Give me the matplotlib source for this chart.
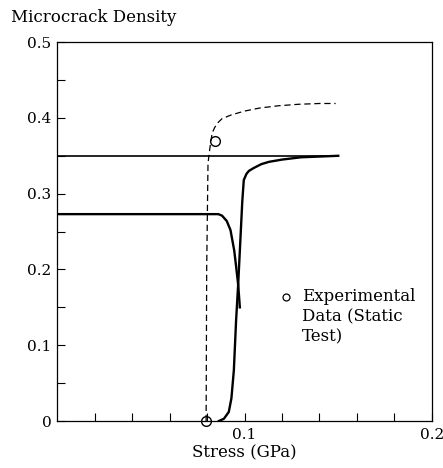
import numpy as np
import matplotlib
matplotlib.use("Agg")
import matplotlib.pyplot as plt

plt.rcParams['font.family'] = ['DejaVu Serif']

# solid branch dropping from the plateau
drop_x = [0.0, 0.080, 0.086, 0.088, 0.0905, 0.0925, 0.0945, 0.0955, 0.0966, 0.0975]
drop_y = [0.273, 0.273, 0.273, 0.271, 0.264, 0.252, 0.225, 0.204, 0.180, 0.150]

# solid branch rising from zero
rise_x = [0.0863, 0.089, 0.0916, 0.093, 0.0943, 0.0955, 0.0966, 0.0978, 0.0988, 0.0996,
          0.1010, 0.1023, 0.105, 0.109, 0.113, 0.120, 0.130, 0.140, 0.150]
rise_y = [0.0, 0.003, 0.012, 0.030, 0.067, 0.133, 0.180, 0.240, 0.290, 0.318,
          0.326, 0.330, 0.334, 0.339, 0.342, 0.345, 0.348, 0.349, 0.350]

# dashed curve
dash_x = [0.0795, 0.0798, 0.0805, 0.0815, 0.0827, 0.0840, 0.0855, 0.088, 0.093, 0.100,
          0.108, 0.118, 0.129, 0.140, 0.1486]
dash_y = [0.0, 0.20, 0.34, 0.360, 0.380, 0.387, 0.393, 0.399, 0.404, 0.409,
          0.413, 0.416, 0.418, 0.419, 0.419]

# horizontal reference line
ref_x = [0.0, 0.15]
ref_y = [0.35, 0.35]

# experimental data
exp_x = [0.0795, 0.0840]
exp_y = [0.0, 0.370]

fig = plt.figure(figsize=(4.43, 4.68), dpi=100)
ax = fig.add_axes([0.129, 0.1004, 0.846, 0.8096])

ax.plot(ref_x, ref_y, color='black', lw=1.2)
ax.plot(drop_x, drop_y, color='black', lw=1.7)
ax.plot(rise_x, rise_y, color='black', lw=1.7)
ax.plot(dash_x, dash_y, color='black', lw=0.9, ls=(0, (5, 3)))
ax.plot(exp_x, exp_y, 'o', mfc='none', mec='black', ms=7, mew=1.0, ls='none',
        clip_on=False, zorder=5)

ax.set_xlim(0, 0.2)
ax.set_ylim(0, 0.5)
ax.set_xticks(np.arange(0.02, 0.2001, 0.02))
ax.set_xticklabels(['', '', '', '', '0.1', '', '', '', '', '0.2'])
ax.set_yticks([0, 0.1, 0.2, 0.3, 0.4, 0.5])
ax.set_yticklabels(['0', '0.1', '0.2', '0.3', '0.4', '0.5'])
ax.set_yticks(np.arange(0.05, 0.5, 0.1), minor=True)
ax.tick_params(axis='both', which='both', direction='in', length=6, width=0.8,
               labelsize=11, top=False, right=False)
ax.tick_params(axis='y', pad=4)
ax.tick_params(axis='x', pad=5)
for s in ax.spines.values():
    s.set_linewidth(0.9)

ax.set_xlabel('Stress (GPa)', fontsize=12, labelpad=2)
fig.text(0.025, 0.963, 'Microcrack Density', fontsize=12, ha='left', va='center')

# legend entry drawn by hand
ax.plot([0.122], [0.164], 'o', mfc='none', mec='black', ms=5, mew=0.9)
ax.text(0.1305, 0.176, 'Experimental\nData (Static\nTest)', fontsize=12,
        ha='left', va='top', linespacing=1.25)

fig.savefig('out.png', dpi=100)
